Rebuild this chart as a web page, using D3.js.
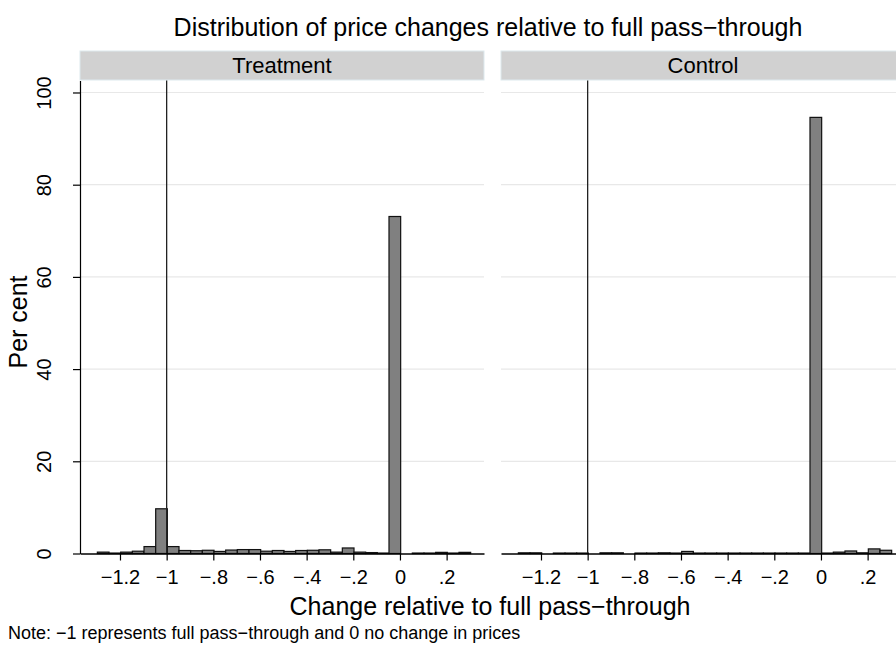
<!DOCTYPE html>
<html>
<head>
<meta charset="utf-8">
<script src="https://cdn.jsdelivr.net/npm/d3@7"></script>
<style>
  body { margin: 0; background: #fff; }
  svg { display: block; font-family: "Liberation Sans", Arial, Helvetica, sans-serif; }
</style>
</head>
<body>
<svg id="chart" width="896" height="646"></svg>
<script>
// histogram bins (left edges), width 0.05
var binLeft = [-1.297, -1.247, -1.197, -1.147, -1.097, -1.047, -0.997, -0.947, -0.897, -0.847,
               -0.797, -0.747, -0.697, -0.647, -0.597, -0.547, -0.497, -0.447, -0.397, -0.347,
               -0.297, -0.247, -0.197, -0.147, -0.097, -0.047, 0.003, 0.053, 0.103, 0.153,
               0.203, 0.253, 0.303];
var binWidth = 0.05;

// per cent of observations in each bin
var treatmentPct = [0.3, 0.1, 0.3, 0.5, 1.5, 9.7, 1.5, 0.65, 0.6, 0.7,
                    0.45, 0.75, 0.85, 0.85, 0.5, 0.65, 0.45, 0.65, 0.7, 0.8,
                    0.3, 1.2, 0.3, 0.2, 0.1, 73.1, 0, 0.1, 0.1, 0.25,
                    0.1, 0.25, 0];
var controlPct = [0.15, 0.15, 0, 0.1, 0.1, 0.1, 0, 0.15, 0.15, 0,
                  0.1, 0.1, 0.15, 0.1, 0.45, 0.1, 0.1, 0.1, 0.1, 0.1,
                  0.1, 0.1, 0.1, 0.1, 0.1, 94.6, 0.1, 0.3, 0.55, 0.15,
                  1.0, 0.7, 0];

var panelNames = ["Treatment", "Control"];
var xTicks = [-1.2, -1, -0.8, -0.6, -0.4, -0.2, 0, 0.2];
var yTicks = [0, 20, 40, 60, 80, 100];
var refLine = -1;

var title = "Distribution of price changes relative to full pass\u2212through";
var xTitle = "Change relative to full pass\u2212through";
var yTitle = "Per cent";
var note = "Note: \u22121 represents full pass\u2212through and 0 no change in prices";

var svg = d3.select("#chart");
var panelW = 404, plotTop = 80.5, plotBottom = 553.5;
var panelX = [80, 501];

var x = d3.scaleLinear().domain([-1.3714, 0.3602]).range([0, panelW]);
var y = d3.scaleLinear().domain([0, 102.6]).range([plotBottom, plotTop]);

// labels like Stata: drop leading zero, real minus sign
function fmt(v) {
    var s = d3.format("~g")(Math.abs(v));
    if (s.indexOf("0.") === 0) s = s.slice(1);
    return (v < 0 ? "\u2212" : "") + s;
}

var data = [treatmentPct, controlPct];

panelNames.forEach(function(name, i) {
    var g = svg.append("g").attr("transform", "translate(" + panelX[i] + ",0)");

    // strip header
    g.append("rect")
        .attr("x", 0).attr("y", 51)
        .attr("width", panelW).attr("height", 29)
        .attr("fill", "#d1d1d1")
        .attr("stroke", "#dde9ee").attr("stroke-width", 1);
    g.append("text")
        .attr("x", panelW / 2).attr("y", 73)
        .attr("text-anchor", "middle")
        .attr("font-size", 22)
        .attr("fill", "#000")
        .text(name);

    // gridlines
    g.selectAll(".grid")
        .data(yTicks.filter(function(d) { return d > 0; }))
        .enter().append("line")
        .attr("x1", 0).attr("x2", panelW)
        .attr("y1", function(d) { return y(d); })
        .attr("y2", function(d) { return y(d); })
        .attr("stroke", "#e8e8e8").attr("stroke-width", 1.2);

    // bars
    var bins = binLeft.map(function(l, j) { return {x0: l, x1: l + binWidth, v: data[i][j]}; })
        .filter(function(d) { return d.v > 0; });
    g.selectAll(".bar")
        .data(bins)
        .enter().append("rect")
        .attr("x", function(d) { return x(d.x0); })
        .attr("width", function(d) { return x(d.x1) - x(d.x0); })
        .attr("y", function(d) { return y(d.v); })
        .attr("height", function(d) { return y(0) - y(d.v); })
        .attr("fill", "#808080")
        .attr("stroke", "#111").attr("stroke-width", 1.2);

    // reference line at full pass-through
    g.append("line")
        .attr("x1", x(refLine)).attr("x2", x(refLine))
        .attr("y1", plotTop).attr("y2", plotBottom)
        .attr("stroke", "#222").attr("stroke-width", 1.3);

    // x axis
    var xAxis = d3.axisBottom(x).tickValues(xTicks).tickFormat(fmt).tickSize(7).tickSizeOuter(0);
    var xa = g.append("g").attr("transform", "translate(0," + plotBottom + ")").call(xAxis);
    xa.select(".domain").attr("stroke", "#000").attr("stroke-width", 1.4);
    xa.selectAll(".tick line").attr("stroke", "#000").attr("stroke-width", 1.2);
    xa.selectAll(".tick text")
        .attr("font-size", 20).attr("font-family", null).attr("fill", "#000").attr("dy", null).attr("y", 30);

    if (i === 0) {
        var yAxis = d3.axisLeft(y).tickValues(yTicks).tickSize(7).tickSizeOuter(0).tickFormat(d3.format("d"));
        var ya = g.append("g").call(yAxis);
        ya.select(".domain").attr("stroke", "#000").attr("stroke-width", 1.2);
        ya.selectAll(".tick line").attr("stroke", "#000").attr("stroke-width", 1.2);
        ya.selectAll(".tick text")
            .attr("font-size", 20).attr("font-family", null).attr("fill", "#000")
            .attr("x", null).attr("dy", null)
            .attr("text-anchor", "middle")
            .attr("transform", "translate(-29,0) rotate(-90)");
    }
});

// titles
svg.append("text")
    .attr("x", 488).attr("y", 36)
    .attr("text-anchor", "middle").attr("font-size", 25)
    .text(title);

svg.append("text")
    .attr("x", 490).attr("y", 615)
    .attr("text-anchor", "middle").attr("font-size", 25)
    .text(xTitle);

svg.append("text")
    .attr("transform", "translate(27,322) rotate(-90)")
    .attr("text-anchor", "middle").attr("font-size", 25)
    .text(yTitle);

svg.append("text")
    .attr("x", 8).attr("y", 639)
    .attr("font-size", 18)
    .text(note);
</script>
</body>
</html>
